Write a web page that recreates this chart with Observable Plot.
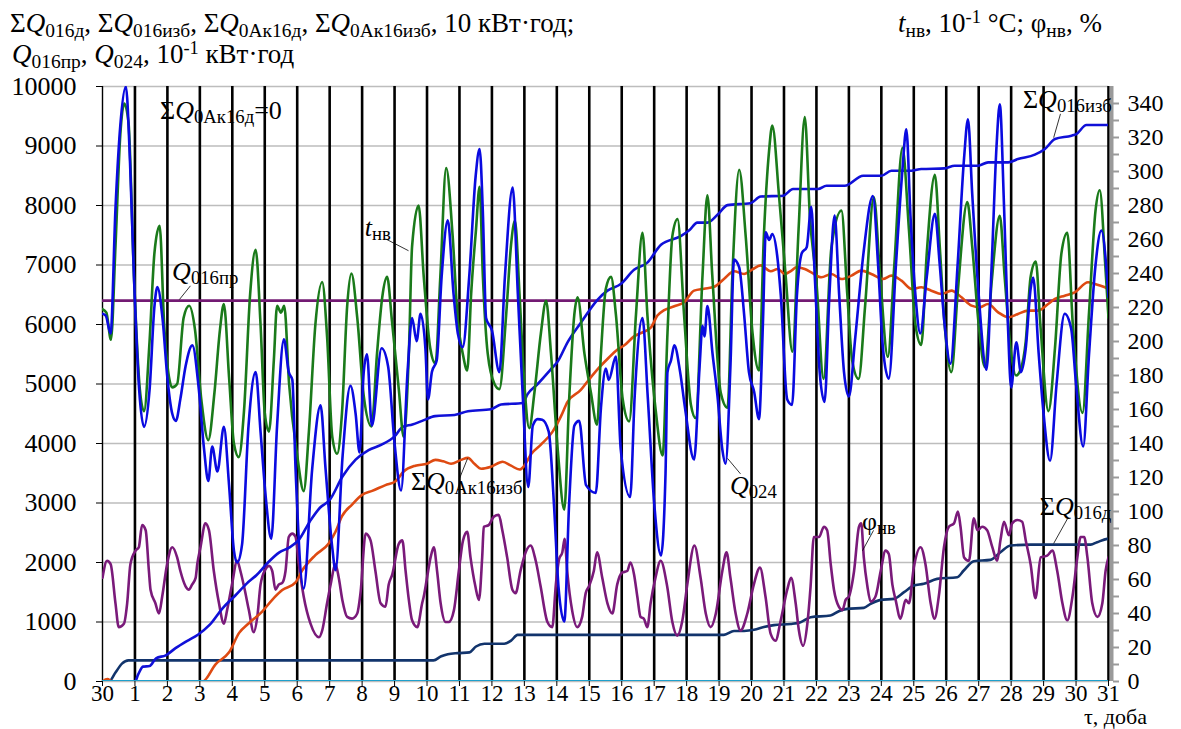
<!DOCTYPE html>
<html><head><meta charset="utf-8">
<script src="https://cdn.jsdelivr.net/npm/d3@7"></script>
<script src="https://cdn.jsdelivr.net/npm/@observablehq/plot@0.6"></script>
<style>
body{margin:0;background:#fff;}
#wrap{position:relative;width:1181px;height:729px;font-family:"Liberation Serif","DejaVu Serif",serif;color:#000;}
#wrap svg, #wrap svg text{font-family:"Liberation Serif","DejaVu Serif",serif !important;}
.t{position:absolute;white-space:nowrap;font-size:26px;line-height:26px;font-family:"Liberation Serif","DejaVu Serif",serif;}
.t sub{font-size:0.72em;vertical-align:-0.24em;line-height:0;}
.t sup{font-size:0.68em;vertical-align:0.5em;line-height:0;}
.t i{font-style:italic;}
</style></head>
<body><div id="wrap"></div>
<script>
// ---- data (day of month: 0 = 30th of previous month) ----
// Q024, 10^-1 kWh (left axis)
const q024 = [[0,6180],[0.1,6150],[0.25,5850],[0.4,7950],[0.55,9350],[0.72,10000],[0.85,8700],[0.97,6800],[1.13,4900],[1.28,4280],[1.45,4900],[1.6,6300],[1.69,6630],[1.85,6100],[2.0,5100],[2.15,4500],[2.26,4380],[2.4,4750],[2.56,5300],[2.77,5650],[2.97,4900],[3.13,3900],[3.26,3370],[3.38,3950],[3.54,3530],[3.74,4280],[3.9,3300],[4.05,2200],[4.15,2000],[4.3,2300],[4.5,4300],[4.72,5200],[4.87,4200],[5.03,3100],[5.2,2400],[5.38,4300],[5.59,5750],[5.74,5200],[5.85,5070],[5.95,3560],[6.2,1560],[6.46,3560],[6.72,4640],[6.87,3600],[7.08,2250],[7.18,1870],[7.4,3800],[7.64,4970],[7.8,4500],[7.92,3850],[8.05,5200],[8.15,5500],[8.3,4300],[8.6,5600],[8.8,5300],[9.0,4000],[9.2,3210],[9.4,5200],[9.54,6110],[9.68,5720],[9.8,6180],[9.95,5600],[10.03,4740],[10.15,5200],[10.3,5400],[10.45,6800],[10.64,7750],[10.82,6500],[10.95,5850],[11.1,5620],[11.3,6800],[11.5,8500],[11.62,8950],[11.72,7900],[11.82,6110],[12.0,5900],[12.23,5200],[12.4,6800],[12.64,8300],[12.8,6500],[12.95,4800],[13.12,3270],[13.26,4300],[13.41,4410],[13.55,4400],[13.75,4200],[13.92,2900],[14.05,1600],[14.23,1010],[14.38,3000],[14.54,4300],[14.69,4380],[14.9,3300],[15.2,3170],[15.36,4600],[15.51,5260],[15.6,5070],[15.82,5460],[15.97,3900],[16.26,3100],[16.4,4800],[16.64,6110],[16.8,4800],[17.0,3000],[17.21,2120],[17.35,3500],[17.41,5200],[17.52,5400],[17.62,5650],[17.8,5200],[17.95,4600],[18.23,3730],[18.4,5300],[18.49,5980],[18.55,5800],[18.64,6310],[18.8,5500],[18.95,4800],[19.1,3900],[19.2,3660],[19.35,5300],[19.46,7090],[19.62,6960],[19.77,6180],[19.92,5200],[20.08,4870],[20.23,4410],[20.35,6000],[20.44,7550],[20.54,7420],[20.64,7520],[20.79,7160],[20.9,6500],[21.1,4740],[21.25,4650],[21.4,6500],[21.55,7200],[21.7,7300],[21.84,7980],[21.95,6800],[22.1,5200],[22.25,4700],[22.4,6500],[22.56,7830],[22.7,6500],[22.85,5200],[23.0,4790],[23.2,5800],[23.45,7200],[23.74,8160],[23.9,7000],[24.05,5600],[24.23,5090],[24.45,7000],[24.65,8600],[24.77,9280],[24.9,7800],[25.05,6500],[25.2,5850],[25.4,6800],[25.65,7860],[25.8,7000],[25.95,6000],[26.13,5340],[26.35,7000],[26.55,8800],[26.67,9450],[26.8,8200],[27.0,6500],[27.24,5240],[27.4,7000],[27.55,9000],[27.65,9700],[27.78,8000],[27.9,6000],[28.0,4940],[28.16,5700],[28.3,5200],[28.45,5600],[28.6,6600],[28.68,6790],[28.85,5500],[29.0,4500],[29.2,3710],[29.4,5000],[29.65,6180],[29.85,5930],[30.0,5000],[30.22,3950],[30.4,5500],[30.6,7000],[30.78,7580],[31.0,6460]];

// t_nv, 10^-1 °C (right axis)
const tNv = [[0,219],[0.12,217],[0.26,201],[0.4,256],[0.55,322],[0.67,340],[0.8,329],[0.97,238],[1.15,172],[1.28,159],[1.45,200],[1.6,252],[1.76,268],[1.9,210],[2.05,179],[2.15,173],[2.3,175],[2.5,214],[2.67,221],[2.85,207],[3.05,165],[3.26,142],[3.45,170],[3.62,207],[3.74,222],[3.9,179],[4.05,140],[4.2,132],[4.36,159],[4.55,228],[4.72,254],[4.87,210],[5.0,158],[5.13,147],[5.28,189],[5.38,221],[5.5,217],[5.6,221],[5.75,175],[6.0,133],[6.2,112],[6.36,147],[6.56,210],[6.77,235],[6.92,203],[7.08,144],[7.23,134],[7.38,158],[7.54,221],[7.67,240],[7.85,214],[8.05,168],[8.29,150],[8.46,193],[8.62,226],[8.77,238],[8.92,212],[9.13,172],[9.28,144],[9.44,193],[9.54,256],[9.74,280],[9.9,238],[10.1,196],[10.26,187],[10.41,238],[10.59,302],[10.79,262],[10.95,212],[11.1,193],[11.24,183],[11.36,228],[11.51,266],[11.62,291],[11.72,239],[11.87,193],[12.08,175],[12.23,172],[12.44,216],[12.59,257],[12.71,271],[12.85,228],[13.0,175],[13.15,149],[13.31,170],[13.51,205],[13.67,224],[13.82,193],[14.03,136],[14.23,101],[14.38,166],[14.54,216],[14.64,226],[14.85,193],[15.05,170],[15.24,151],[15.36,193],[15.51,231],[15.67,238],[15.82,216],[16.03,166],[16.23,153],[16.44,216],[16.64,264],[16.79,216],[17.05,159],[17.26,133],[17.41,205],[17.56,262],[17.72,272],[17.92,216],[18.13,163],[18.28,155],[18.49,239],[18.64,286],[18.79,239],[19.05,170],[19.26,161],[19.41,239],[19.62,301],[19.82,262],[20.03,205],[20.23,183],[20.38,262],[20.54,312],[20.64,327],[20.85,285],[21.05,239],[21.26,194],[21.45,266],[21.64,332],[21.8,273],[22.0,235],[22.22,178],[22.46,255],[22.77,277],[22.95,228],[23.1,189],[23.3,178],[23.5,221],[23.77,285],[23.95,242],[24.2,191],[24.4,245],[24.65,314],[24.85,266],[25.05,210],[25.23,198],[25.4,252],[25.65,298],[25.8,256],[25.95,210],[26.16,182],[26.35,228],[26.65,282],[26.8,256],[27.0,210],[27.19,185],[27.4,235],[27.65,274],[27.8,238],[28.0,193],[28.15,180],[28.3,184],[28.45,200],[28.6,238],[28.76,247],[28.9,210],[29.15,159],[29.35,196],[29.55,252],[29.73,264],[29.9,210],[30.2,158],[30.4,217],[30.6,277],[30.73,289],[30.9,245],[31.0,214]];

// phi_nv, % (right axis)
const phiNv = [[0,61],[0.14,71],[0.25,69],[0.4,46],[0.5,32],[0.66,34],[0.76,46],[0.86,69],[1.02,77],[1.12,79],[1.22,92],[1.33,89],[1.43,65],[1.48,54],[1.63,46],[1.74,40],[1.84,50],[1.99,69],[2.15,79],[2.3,73],[2.4,65],[2.56,56],[2.66,54],[2.76,57],[2.87,61],[2.92,69],[3.02,79],[3.17,93],[3.28,89],[3.43,65],[3.59,46],[3.74,34],[3.84,42],[3.99,57],[4.15,71],[4.25,65],[4.36,56],[4.51,42],[4.66,29],[4.77,38],[4.87,57],[5.02,66],[5.13,68],[5.23,65],[5.33,54],[5.43,57],[5.54,58],[5.64,65],[5.74,85],[5.85,87],[5.95,85],[6.05,69],[6.2,50],[6.41,34],[6.67,26],[6.77,30],[6.92,46],[7.03,57],[7.18,69],[7.28,61],[7.39,48],[7.54,38],[7.69,37],[7.85,40],[7.95,52],[8.11,87],[8.26,83],[8.41,65],[8.57,46],[8.72,44],[8.82,57],[8.93,63],[9.13,81],[9.24,83],[9.34,65],[9.44,48],[9.54,36],[9.7,32],[9.85,46],[9.9,50],[10.0,61],[10.11,73],[10.21,79],[10.31,65],[10.42,46],[10.57,35],[10.67,35],[10.83,42],[10.98,65],[11.11,83],[11.24,88],[11.34,73],[11.49,56],[11.6,48],[11.7,73],[11.75,91],[11.9,92],[12.06,97],[12.21,98],[12.32,89],[12.47,73],[12.63,54],[12.73,52],[12.88,65],[13.04,76],[13.19,80],[13.35,71],[13.5,56],[13.71,35],[13.86,32],[13.97,57],[14.07,72],[14.17,76],[14.24,84],[14.32,65],[14.47,42],[14.63,32],[14.78,38],[14.89,52],[14.99,56],[15.14,65],[15.24,76],[15.4,61],[15.56,46],[15.71,40],[15.86,57],[16.01,64],[16.17,65],[16.27,70],[16.38,63],[16.48,50],[16.58,38],[16.68,37],[16.79,32],[16.89,46],[17.04,61],[17.2,71],[17.4,56],[17.56,35],[17.71,27],[17.87,36],[18.02,57],[18.24,80],[18.43,61],[18.59,40],[18.74,32],[18.9,40],[19.1,65],[19.23,76],[19.35,61],[19.51,40],[19.66,30],[19.87,40],[20.07,57],[20.26,67],[20.43,50],[20.59,28],[20.74,24],[20.9,36],[21.1,54],[21.22,61],[21.36,46],[21.46,30],[21.59,21],[21.72,34],[21.82,56],[21.92,85],[22.08,85],[22.23,91],[22.33,89],[22.44,69],[22.54,54],[22.69,44],[22.8,42],[22.9,48],[23.0,50],[23.16,65],[23.31,91],[23.38,93],[23.46,73],[23.57,56],[23.67,47],[23.82,50],[23.98,65],[24.13,77],[24.23,75],[24.34,57],[24.44,48],[24.59,37],[24.75,48],[24.85,46],[25.0,67],[25.21,79],[25.36,69],[25.52,46],[25.64,37],[25.77,50],[25.93,79],[26.08,91],[26.24,93],[26.36,100],[26.44,91],[26.55,73],[26.7,71],[26.85,96],[26.96,89],[27.11,91],[27.26,89],[27.42,79],[27.57,71],[27.67,83],[27.78,94],[27.93,86],[28.03,93],[28.19,95],[28.34,94],[28.45,83],[28.6,69],[28.75,49],[28.91,73],[29.11,74],[29.27,77],[29.42,65],[29.58,46],[29.73,36],[29.89,50],[30.04,73],[30.14,85],[30.25,85],[30.35,73],[30.5,46],[30.66,38],[30.81,46],[30.91,65],[31.0,73]];

// ΣQ016изб, 10 kWh (left axis)
const sumQ016izb = [[0,0],[1.0,0],[1.1,120],[1.25,250],[1.45,260],[1.65,390],[1.95,440],[2.25,560],[2.6,680],[2.95,790],[3.3,950],[3.7,1230],[4.1,1450],[4.45,1650],[4.75,1790],[5.1,2000],[5.45,2170],[5.75,2250],[6.05,2380],[6.4,2700],[6.7,2920],[7.0,3050],[7.4,3450],[7.8,3730],[8.2,3890],[8.6,3980],[9.0,4120],[9.25,4280],[9.55,4320],[9.85,4380],[10.25,4460],[10.85,4480],[11.26,4543],[11.97,4575],[12.28,4654],[12.95,4680],[13.1,4830],[13.41,5000],[13.82,5250],[14.03,5380],[14.33,5700],[14.74,6030],[15.26,6420],[15.56,6570],[15.97,6680],[16.38,6920],[16.79,7040],[17.21,7340],[17.82,7484],[18.08,7582],[18.33,7713],[18.64,7713],[18.95,7843],[19.26,8006],[19.97,8039],[20.28,8150],[20.97,8165],[21.28,8277],[22.05,8277],[22.31,8333],[22.87,8333],[23.44,8501],[24.0,8501],[24.31,8585],[24.93,8585],[25.23,8613],[25.95,8624],[26.26,8669],[26.98,8669],[27.29,8725],[27.91,8725],[28.21,8781],[28.73,8854],[29.04,8949],[29.35,9117],[29.86,9173],[30.01,9201],[30.32,9352],[31.0,9352]];

// ΣQ0Ак16изб, 10 kWh (left axis)
const sumQ0Ak16izb = [[0,0],[0.15,40],[0.3,0],[3.08,0],[3.49,294],[3.9,490],[4.21,817],[4.51,980],[4.92,1176],[5.23,1373],[5.54,1536],[5.95,1667],[6.15,1863],[6.56,2124],[6.97,2320],[7.18,2516],[7.38,2778],[7.69,2974],[8.0,3137],[8.31,3203],[8.72,3301],[9.03,3366],[9.28,3529],[9.64,3627],[10.0,3660],[10.26,3725],[10.5,3700],[10.74,3660],[11.05,3725],[11.26,3758],[11.46,3660],[11.67,3575],[11.97,3608],[12.33,3693],[12.59,3627],[12.85,3562],[13.0,3627],[13.21,3824],[13.51,3980],[13.87,4200],[14.13,4460],[14.33,4700],[14.74,4900],[15.0,5080],[15.26,5250],[15.56,5420],[15.87,5580],[16.08,5650],[16.38,5800],[16.69,5880],[16.9,5950],[17.1,6150],[17.31,6242],[17.62,6307],[17.92,6373],[18.23,6569],[18.54,6601],[18.85,6634],[19.15,6765],[19.46,6895],[19.77,6850],[20.03,6928],[20.28,6993],[20.59,6895],[20.81,6933],[21.02,6849],[21.23,6905],[21.38,6961],[21.64,6933],[21.84,6877],[22.15,6793],[22.46,6849],[22.77,6765],[23.08,6821],[23.38,6905],[23.69,6849],[24.05,6765],[24.31,6821],[24.62,6737],[24.93,6597],[25.23,6625],[25.54,6569],[25.85,6513],[26.16,6569],[26.47,6457],[26.78,6317],[27.03,6289],[27.29,6345],[27.6,6205],[27.91,6121],[28.21,6177],[28.52,6233],[28.83,6233],[29.14,6345],[29.35,6429],[29.65,6485],[29.96,6541],[30.37,6709],[30.58,6681],[30.89,6625],[31.0,6597]];

// ΣQ016д, 10 kWh (left axis)
const sumQ016d = [[0,0],[0.2,0],[0.4,150],[0.6,300],[0.8,355],[10.2,355],[10.44,425],[10.64,458],[10.95,477],[11.31,490],[11.51,588],[11.77,634],[12.38,634],[12.59,686],[12.79,784],[19.15,784],[19.46,850],[19.77,850],[20.08,869],[20.38,915],[20.69,948],[21.21,967],[21.51,997],[21.82,1081],[22.43,1109],[22.69,1182],[22.95,1221],[23.46,1238],[23.67,1305],[23.98,1372],[24.39,1389],[24.7,1501],[25.0,1613],[25.31,1641],[25.72,1725],[26.34,1753],[26.54,1865],[26.85,2022],[27.36,2044],[27.67,2173],[27.98,2285],[28.6,2301],[30.45,2301],[30.65,2341],[30.96,2397],[31,2400]];

// ΣQ0Ак16д = 0 (left axis)
const sumQ0Ak16d = [[0,0],[31,0]];
// Q016пр, 10^-1 kWh (left axis)
const q016pr = [[0,6400],[31,6400]];

// axes
const dayTicks = d3.range(0, 32);
const leftTicks = d3.range(0, 10001, 1000);
const rightTicks = d3.range(0, 341, 20);
const rightMinor = d3.range(0, 350, 10);
const rightMax = 350;
const dayLabel = d => d === 0 ? "30" : String(d);

// annotations: [html, day, value(left units) of text baseline-left]
const labels = [
  ['Σ<i>Q</i><sub>0Ак16д</sub>=0', 1.79, 9440],
  ['<i>t</i><sub>нв</sub>', 8.1, 7480],
  ['<i>Q</i><sub>016пр</sub>', 2.16, 6740],
  ['Σ<i>Q</i><sub>0Ак16изб</sub>', 9.52, 3210],
  ['<i>Q</i><sub>024</sub>', 19.35, 3140],
  ['φ<sub>нв</sub>', 23.42, 2540],
  ['Σ<i>Q</i><sub>016д</sub>', 28.9, 2790],
  ['Σ<i>Q</i><sub>016изб</sub>', 28.38, 9630]
];
const leaders = [
  [8.72, 7440, 9.43, 7240],
  [2.71, 6650, 2.37, 6420],
  [11.25, 3750, 11.0, 3410],
  [19.26, 3750, 19.66, 3490],
  [23.76, 2540, 23.42, 2200],
  [29.74, 2740, 29.31, 2320],
  [29.52, 9540, 29.31, 9140]
];

const k = 10000 / rightMax;
const L = (a) => a.map(([x, v]) => ({x, v}));
const R = (a) => a.map(([x, v]) => ({x, v: v * k}));

const lineOpts = (stroke, w = 2.6) => ({x: "x", y: "v", stroke, strokeWidth: w, curve: "monotone-x", clip: true});
const serif = "Liberation Serif";

const chart = Plot.plot({
  width: 1181, height: 729,
  marginTop: 86, marginBottom: 48, marginLeft: 102, marginRight: 73,
  style: {fontFamily: "'Liberation Serif', serif", background: "white", overflow: "visible"},
  x: {type: "linear", domain: [0, 31]},
  y: {type: "linear", domain: [0, 10000]},
  marks: [
    Plot.gridY(leftTicks, {stroke: "#bdbdbd", strokeOpacity: 1, strokeWidth: 1.4}),
    Plot.ruleX(d3.range(1, 32), {stroke: "#000", strokeWidth: 2.6}),
    Plot.ruleX([31], {stroke: "#9a9a9a", strokeWidth: 4, dx: 3}),
    Plot.ruleX([0], {stroke: "#000", strokeWidth: 1.4}),
    // axis ticks (labels drawn below as text marks)
    Plot.axisX(dayTicks, {tickSize: 5, tickFormat: () => "", label: null}),
    Plot.axisY(leftTicks, {anchor: "left", tickSize: 6, tickFormat: () => "", label: null}),
    Plot.axisY(rightMinor.map(v => v * k), {anchor: "right", tickSize: 6, dx: 4, tickFormat: () => "", stroke: "#9a9a9a", strokeWidth: 2, label: null}),
    // tick labels
    Plot.text(dayTicks, {x: d => d, y: 0, text: dayLabel, dy: 12, fontSize: 23, fontFamily: serif, fill: "#000"}),
    Plot.text(leftTicks, {y: d => d, x: 0, text: d => String(d), dx: -26, textAnchor: "end", fontSize: 26, fontFamily: serif, fill: "#000"}),
    Plot.text(rightTicks.map(v => v * k), {y: d => d, x: 31, text: d => String(Math.round(d / k)), dx: 19, textAnchor: "start", fontSize: 24, fontFamily: serif, fill: "#000"}),
    // series
    Plot.line(L(q016pr), lineOpts("#731a73", 2.8)),
    Plot.line(L(sumQ016d), lineOpts("#12346c")),
    Plot.line(R(phiNv), lineOpts("#7a1a7a")),
    Plot.line(L(sumQ0Ak16izb), lineOpts("#de4a12")),
    Plot.line(L(sumQ016izb), lineOpts("#1010d8")),
    Plot.line(R(tNv), lineOpts("#1a7a1a")),
    Plot.line(L(q024), lineOpts("#0a0ae0")),
    Plot.line(L(sumQ0Ak16d), lineOpts("#1ea0cc", 3)),
    Plot.link(leaders, {x1: d => d[0], y1: d => d[1], x2: d => d[2], y2: d => d[3], stroke: "#000", strokeWidth: 0.8})
  ]
});

const wrap = document.getElementById("wrap");
wrap.appendChild(chart);
const sx = chart.scale("x"), sy = chart.scale("y");

// condense x-axis labels like the original
chart.querySelectorAll("text").forEach(t => {
  const r = t.getBoundingClientRect();
  if (r.top > 682 && r.left > 80 && r.right < 1125 && /^\d+$/.test(t.textContent)) {
    t.setAttribute("textLength", 9.5 * t.textContent.length);
    t.setAttribute("lengthAdjust", "spacingAndGlyphs");
  }
});

function addText(html, left, baseline, size, lh) {
  const s = size || 26;
  const h = lh || s;
  const d = document.createElement("div");
  d.className = "t";
  d.innerHTML = html;
  d.style.fontSize = s + "px"; d.style.lineHeight = h + "px";
  d.style.left = left + "px";
  // baseline offset inside a line box of height h
  d.style.top = (baseline - ((h - 1.149 * s) / 2 + 0.891 * s)) + "px";
  wrap.appendChild(d);
}
for (const [html, day, val] of labels) addText(html, sx.apply(day), sy.apply(val));

// titles
addText('Σ<i>Q</i><sub>016д</sub>, Σ<i>Q</i><sub>016изб</sub>, Σ<i>Q</i><sub>0Ак16д</sub>, Σ<i>Q</i><sub>0Ак16изб</sub>, 10 кВт·год;', 10, 32, 27, 24);
addText('<i>Q</i><sub>016пр</sub>, <i>Q</i><sub>024</sub>, 10<sup>-1</sup> кВт·год', 12, 63, 27, 24);
addText('<i>t</i><sub>нв</sub>, 10<sup>-1</sup> °C; φ<sub>нв</sub>, %', 898, 32, 27, 24);
addText('τ, доба', 1084, 724, 22, 20);
</script>
</body></html>
